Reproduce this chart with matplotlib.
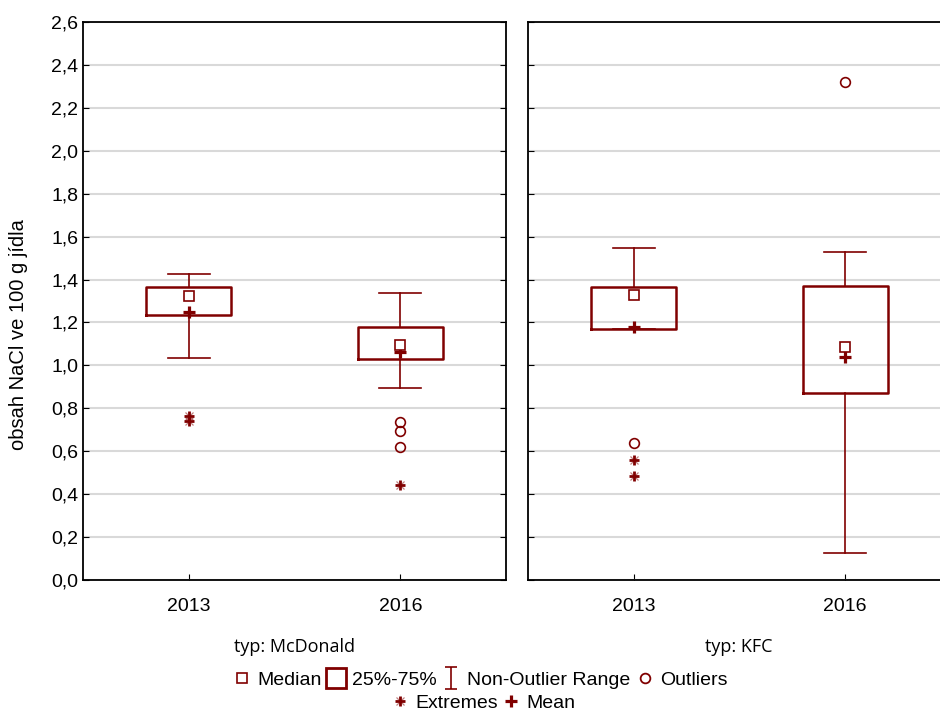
import matplotlib
matplotlib.use("Agg")
import matplotlib.pyplot as plt
from matplotlib.lines import Line2D
from matplotlib.path import Path

# NaCl content per 100 g of food, by chain and year
groups = ["McDonald", "KFC"]
years = ["2013", "2016"]

median = [[1.323, 1.095], [1.328, 1.086]]
q1 = [[1.235, 1.030], [1.170, 0.871]]
q3 = [[1.365, 1.179], [1.365, 1.370]]
whislo = [[1.034, 0.895], [1.168, 0.126]]
whishi = [[1.426, 1.337], [1.547, 1.527]]
mean = [[1.249, 1.062], [1.179, 1.040]]
outliers = [[[], [0.738, 0.696, 0.621]], [[0.638], [2.322]]]
extremes = [[[0.762, 0.742], [0.443]], [[0.559, 0.485], []]]

yticks = [0.0, 0.2, 0.4, 0.6, 0.8, 1.0, 1.2, 1.4, 1.6, 1.8, 2.0, 2.2, 2.4, 2.6]

RED = "#800000"
plt.rcParams["font.family"] = ["Liberation Sans", "DejaVu Sans"]

fig = plt.figure(figsize=(9.4, 7.14), dpi=100)
W, H = 940, 714
ax_left = fig.add_axes([83 / W, 1 - 580 / H, 423 / W, 558 / H])
ax_right = fig.add_axes([528 / W, 1 - 580 / H, 423 / W, 558 / H])
axes = [ax_left, ax_right]

def draw_extremes(ax, x, vals):
    xs = [x] * len(vals)
    ax.plot(xs, vals, ls="none", marker="x", ms=5.5, mew=0.9, color=RED, alpha=0.5, zorder=5)
    ax.plot(xs, vals, ls="none", marker="+", ms=7.5, mew=2.0, color=RED, zorder=6)

for g, ax in enumerate(axes):
    stats = []
    for k in range(len(years)):
        stats.append(dict(med=median[g][k], q1=q1[g][k], q3=q3[g][k],
                          whislo=whislo[g][k], whishi=whishi[g][k],
                          mean=mean[g][k], fliers=[], label=years[k]))
    ax.bxp(stats, positions=[0, 1], widths=0.4, capwidths=0.2,
           showmeans=True, showfliers=False, patch_artist=False,
           boxprops=dict(color=RED, linewidth=1.8),
           whiskerprops=dict(color=RED, linewidth=1.2),
           capprops=dict(color=RED, linewidth=1.2),
           medianprops=dict(linestyle="none"),
           meanprops=dict(marker="+", markersize=8.5, markeredgewidth=2.3,
                          markeredgecolor=RED, color=RED),
           zorder=3)
    for k in range(len(years)):
        ax.plot([k], [median[g][k]], ls="none", marker="s", ms=6.5,
                mfc="white", mec=RED, mew=1.2, zorder=4)
        if outliers[g][k]:
            ax.plot([k] * len(outliers[g][k]), outliers[g][k], ls="none",
                    marker="o", ms=7, mfc="none", mec=RED, mew=1.2, zorder=5)
        if extremes[g][k]:
            draw_extremes(ax, k, extremes[g][k])

    ax.set_xlim(-0.5, 1.5)
    ax.set_ylim(0, 2.6)
    ax.set_yticks(yticks)
    ax.yaxis.grid(True, color="#d9d9d9", linewidth=1.5, zorder=0)
    ax.set_axisbelow(True)
    ax.set_xticks([0, 1])
    ax.set_xticklabels(years, fontsize=14)
    ax.tick_params(axis="x", direction="in", length=4, pad=13)
    ax.tick_params(axis="y", direction="in", length=4, left=True, right=True)
    for s in ax.spines.values():
        s.set_linewidth(1.3)
        s.set_color("black")

ax_left.set_yticklabels([f"{v:.1f}".replace(".", ",") for v in yticks], fontsize=14)
ax_right.set_yticklabels([])
ax_left.set_ylabel("obsah NaCl ve 100 g jídla", fontsize=14.5)
ax_left.yaxis.set_label_coords((28 - 83) / 423, (580 - 335) / 558)

fig.text((83 + 506) / 2 / W, 1 - 647 / H, f"typ: {groups[0]}", ha="center", va="center",
         fontsize=13, family=["Open Sans", "DejaVu Sans"])
fig.text((528 + 211) / W, 1 - 647 / H, f"typ: {groups[1]}", ha="center", va="center",
         fontsize=13, family=["Open Sans", "DejaVu Sans"])

# legend
ibeam = Path([(-0.5, 1), (0.5, 1), (0, 1), (0, -1), (-0.5, -1), (0.5, -1)],
             [Path.MOVETO, Path.LINETO, Path.MOVETO, Path.LINETO, Path.MOVETO, Path.LINETO])
h_med = Line2D([], [], ls="none", marker="s", ms=7, mfc="white", mec=RED, mew=1.2)
h_box = Line2D([], [], ls="none", marker="s", ms=15, mfc="white", mec=RED, mew=2)
h_rng = Line2D([], [], ls="none", marker=ibeam, ms=16, mec=RED, mew=1.2)
h_out = Line2D([], [], ls="none", marker="o", ms=7, mfc="none", mec=RED, mew=1.3)
h_ext_x = Line2D([], [], ls="none", marker="x", ms=5.5, mew=0.9, color=RED, alpha=0.5)
h_ext_p = Line2D([], [], ls="none", marker="+", ms=7.5, mew=2.0, color=RED)
h_mean = Line2D([], [], ls="none", marker="+", ms=8.5, mew=2.3, color=RED)

leg1 = fig.legend([h_med, h_box, h_rng, h_out],
                  ["Median", "25%-75%", "Non-Outlier Range", "Outliers"],
                  loc="center", bbox_to_anchor=(0.511, 1 - 680 / H), ncol=4,
                  frameon=False, fontsize=14, handlelength=0.9,
                  handletextpad=0.35, columnspacing=0.3, borderpad=0)
leg2 = fig.legend([(h_ext_x, h_ext_p), h_mean], ["Extremes", "Mean"],
                  loc="center", bbox_to_anchor=(0.514, 1 - 703 / H), ncol=2,
                  frameon=False, fontsize=14, handlelength=0.9,
                  handletextpad=0.35, columnspacing=0.2, borderpad=0)

fig.savefig("out.png", dpi=100, facecolor="white")
